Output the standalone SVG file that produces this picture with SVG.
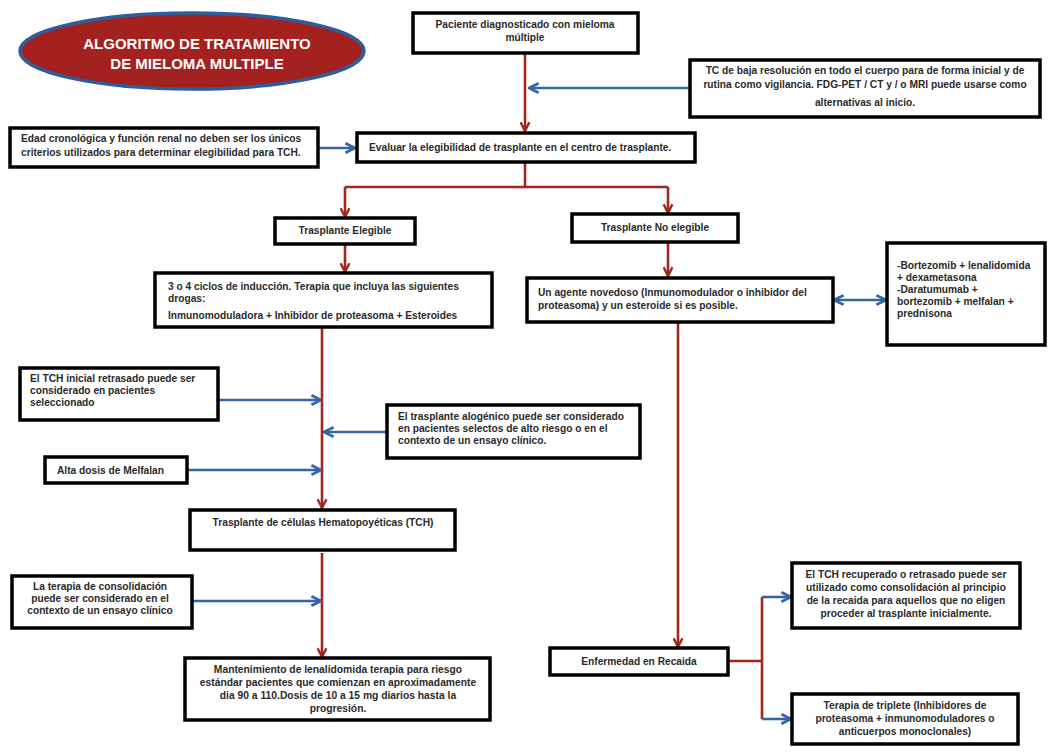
<svg xmlns="http://www.w3.org/2000/svg" width="1058" height="754" viewBox="0 0 1058 754">
<defs>
<marker id="ar" viewBox="0 0 10 10" refX="9" refY="5" markerWidth="11" markerHeight="11" markerUnits="userSpaceOnUse" orient="auto"><path d="M1,1 L9,5 L1,9" fill="none" stroke="#a3261f" stroke-width="2.2"/></marker>
<marker id="ab" viewBox="0 0 10 10" refX="9" refY="5" markerWidth="12" markerHeight="12" markerUnits="userSpaceOnUse" orient="auto-start-reverse"><path d="M1,1 L9,5 L1,9" fill="none" stroke="#3465a4" stroke-width="2.2"/></marker>
</defs>
<style>
.box{fill:#fff;stroke:#000;stroke-width:3.5}
.t{font-family:"Liberation Sans",Arial,sans-serif;font-weight:bold;font-size:10.2px;fill:#2a2a2a}
.c{text-anchor:middle}
.m{font-size:10.3px}
.red{fill:none;stroke:#a3261f;stroke-width:2.6}
.blue{fill:none;stroke:#3465a4;stroke-width:2.6}
.title{font-family:"Liberation Sans",Arial,sans-serif;font-weight:bold;font-size:15px;fill:#fff;text-anchor:middle}
</style>
<rect width="1058" height="754" fill="#fff"/>

<g id="title">
<ellipse cx="192" cy="51" rx="172" ry="38" fill="#a3211f" stroke="#2f5d9b" stroke-width="3.5"/>
<text class="title" x="197" y="49">ALGORITMO DE TRATAMIENTO</text>
<text class="title" x="197" y="69">DE MIELOMA MULTIPLE</text>
</g>

<g id="connectors">
<path class="red" d="M525,53 V131" marker-end="url(#ar)"/>
<path class="red" d="M525,162 V187 M345,187 H668"/>
<path class="red" d="M345,187 V217" marker-end="url(#ar)"/>
<path class="red" d="M668,187 V213" marker-end="url(#ar)"/>
<path class="red" d="M345,244 V272" marker-end="url(#ar)"/>
<path class="red" d="M668,242 V276" marker-end="url(#ar)"/>
<path class="red" d="M322,327 V508" marker-end="url(#ar)"/>
<path class="red" d="M678,322 V647" marker-end="url(#ar)"/>
<path class="red" d="M322,553 V657" marker-end="url(#ar)"/>
<path class="red" d="M728,661 H762 M762,597 V719"/>
<path class="blue" d="M690,88 H529" marker-end="url(#ab)"/>
<path class="blue" d="M318,148 H355" marker-end="url(#ab)"/>
<path class="blue" d="M834,300 H886" marker-start="url(#ab)" marker-end="url(#ab)"/>
<path class="blue" d="M218,400 H321" marker-end="url(#ab)"/>
<path class="blue" d="M387,432 H324" marker-end="url(#ab)"/>
<path class="blue" d="M187,470 H321" marker-end="url(#ab)"/>
<path class="blue" d="M192,601 H321" marker-end="url(#ab)"/>
<path class="blue" d="M762,597 H791" marker-end="url(#ab)"/>
<path class="blue" d="M762,719 H791" marker-end="url(#ab)"/>
</g>

<g id="n-paciente">
<rect class="box" x="413" y="13" width="225" height="40"/>
<text class="t c" x="525" y="28">Paciente diagnosticado con mieloma</text>
<text class="t c" x="525" y="41">múltiple</text>
</g>

<g id="n-tc">
<rect class="box" x="690" y="60" width="350" height="57"/>
<text class="t c" x="865" y="74">TC de baja resolución en todo el cuerpo para de forma inicial y de</text>
<text class="t c" x="865" y="88">rutina como vigilancia. FDG-PET / CT y / o MRI puede usarse como</text>
<text class="t c" x="865" y="106">alternativas al inicio.</text>
</g>

<g id="n-edad">
<rect class="box" x="10" y="128" width="308" height="39"/>
<text class="t" x="21" y="142">Edad cronológica y función renal no deben ser los únicos</text>
<text class="t" x="21" y="156">criterios utilizados para determinar elegibilidad para TCH.</text>
</g>

<g id="n-evaluar">
<rect class="box" x="357" y="133" width="338" height="29"/>
<text class="t" x="369" y="151">Evaluar la elegibilidad de trasplante en el centro de trasplante.</text>
</g>

<g id="n-elegible">
<rect class="box" x="275" y="218" width="140" height="26"/>
<text class="t c" x="345" y="234">Trasplante Elegible</text>
</g>

<g id="n-noelegible">
<rect class="box" x="572" y="214" width="166" height="28"/>
<text class="t c" x="655" y="231">Trasplante No elegible</text>
</g>

<g id="n-induccion">
<rect class="box" x="155" y="273" width="337" height="54"/>
<text class="t" x="168" y="290">3 o 4 ciclos de inducción. Terapia que incluya las siguientes</text>
<text class="t" x="168" y="302">drogas:</text>
<text class="t" x="168" y="319">Inmunomoduladora + Inhibidor de proteasoma + Esteroides</text>
</g>

<g id="n-agente">
<rect class="box" x="527" y="278" width="306" height="44"/>
<text class="t" x="538" y="296">Un agente novedoso (Inmunomodulador o inhibidor del</text>
<text class="t" x="538" y="309">proteasoma) y un esteroide si es posible.</text>
</g>

<g id="n-bortezomib">
<rect class="box" x="887" y="243" width="158" height="102"/>
<text class="t" x="897" y="269">-Bortezomib + lenalidomida</text>
<text class="t" x="897" y="281">+ dexametasona</text>
<text class="t" x="897" y="293">-Daratumumab +</text>
<text class="t" x="897" y="305">bortezomib + melfalan +</text>
<text class="t" x="897" y="317">prednisona</text>
</g>

<g id="n-tchinicial">
<rect class="box" x="20" y="368" width="198" height="52"/>
<text class="t" x="30" y="382">El TCH inicial retrasado puede ser</text>
<text class="t" x="30" y="394">considerado en pacientes</text>
<text class="t" x="30" y="406">seleccionado</text>
</g>

<g id="n-alogenico">
<rect class="box" x="387" y="405" width="253" height="53"/>
<text class="t" x="398" y="420">El trasplante alogénico puede ser considerado</text>
<text class="t" x="398" y="432">en pacientes selectos de alto riesgo o en el</text>
<text class="t" x="398" y="444">contexto de un ensayo clínico.</text>
</g>

<g id="n-melfalan">
<rect class="box" x="45" y="457" width="142" height="26"/>
<text class="t" x="57" y="474">Alta dosis de Melfalan</text>
</g>

<g id="n-tch">
<rect class="box" x="190" y="510" width="265" height="40"/>
<text class="t c" x="323" y="526">Trasplante de células Hematopoyéticas (TCH)</text>
</g>

<g id="n-consolidacion">
<rect class="box" x="12" y="576" width="180" height="52"/>
<text class="t c" x="100" y="590">La terapia de consolidación</text>
<text class="t c" x="100" y="602">puede ser considerado en el</text>
<text class="t c" x="100" y="614">contexto de un ensayo clínico</text>
</g>

<g id="n-mantenimiento">
<rect class="box" x="185" y="658" width="305" height="62"/>
<text class="t c m" x="338" y="673">Mantenimiento de lenalidomida terapia para riesgo</text>
<text class="t c m" x="338" y="686">estándar pacientes que comienzan en aproximadamente</text>
<text class="t c m" x="338" y="699">dia 90 a 110.Dosis de 10 a 15 mg diarios hasta la</text>
<text class="t c m" x="338" y="712">progresión.</text>
</g>

<g id="n-recaida">
<rect class="box" x="550" y="648" width="178" height="27"/>
<text class="t c" x="639" y="665">Enfermedad en Recaida</text>
</g>

<g id="n-recuperado">
<rect class="box" x="792" y="563" width="228" height="65"/>
<text class="t c" x="906" y="578">El TCH recuperado o retrasado puede ser</text>
<text class="t c" x="906" y="591">utilizado como consolidación al principio</text>
<text class="t c" x="906" y="604">de la recaida para aquellos que no eligen</text>
<text class="t c" x="906" y="617">proceder al trasplante inicialmente.</text>
</g>

<g id="n-triplete">
<rect class="box" x="792" y="694" width="226" height="50"/>
<text class="t c" x="905" y="709">Terapia de triplete (Inhibidores de</text>
<text class="t c" x="905" y="722">proteasoma  + inmunomoduladores o</text>
<text class="t c" x="905" y="735">anticuerpos monoclonales)</text>
</g>
</svg>
